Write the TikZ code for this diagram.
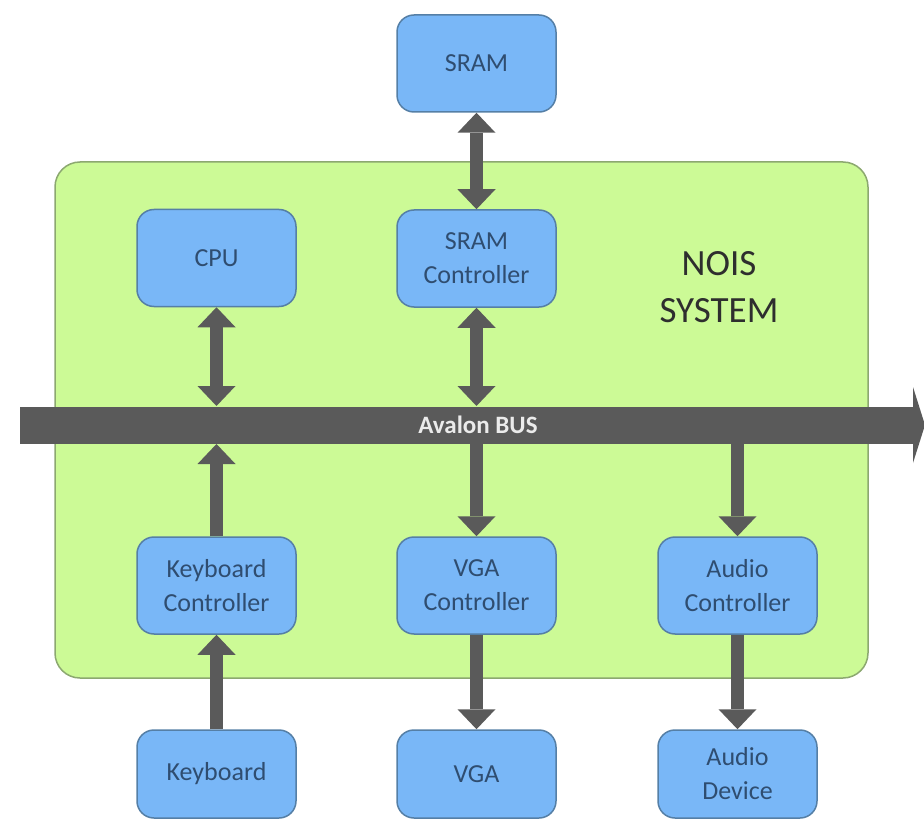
\documentclass[tikz,border=0pt]{standalone}
\usepackage{fontspec}
\setmainfont{Carlito}
\usetikzlibrary{arrows.meta}
\definecolor{unitfill}{HTML}{79B7F7}
\definecolor{unitline}{HTML}{557FA6}
\definecolor{unittext}{HTML}{2F4D70}
\definecolor{sysfill}{HTML}{CCFA96}
\definecolor{sysline}{HTML}{8CA870}
\definecolor{busgray}{HTML}{5A5A5A}
\tikzset{
  unit/.style={draw=unitline, fill=unitfill, line width=1.5pt, rounded corners=17pt,
    minimum width=159pt, minimum height=97pt, align=center, text=unittext,
    font=\fontsize{26}{34}\selectfont},
  lowunit/.style={unit, minimum height=88pt},
  sysbox/.style={draw=sysline, fill=sysfill, line width=1.5pt, rounded corners=25pt},
  link/.style={draw=busgray, line width=13pt},
  buspath/.style={draw=busgray, line width=37pt,
    -{Triangle[width=76pt,length=12pt,line width=0pt]}}
}
\begin{document}
\begin{tikzpicture}[x=1pt,y=-1pt,>={Triangle[width=38pt,length=20pt,line width=0pt]}]
				\useasboundingbox (0,0) rectangle (924,821);
				
				\node[sysbox, minimum width=813pt, minimum height=516pt] (sys) at (461.5,420) {};
				\node[text=black!82, align=center, font=\fontsize{37}{47}\selectfont] (sysname) at (719,287) {NOIS\\SYSTEM};
				
				\coordinate (busL) at (20,425);
				\coordinate (busR) at (925,425);
				\coordinate (bustop) at (0,406);
				\coordinate (busbot) at (0,444);
				\draw[buspath] (busL) -- (busR);
				\node[text=white!92!black, font=\fontsize{25}{28}\selectfont\bfseries] (buslabel) at (478,425) {Avalon BUS};
				
				\node[unit] (sram) at (476.5,63.5) {SRAM};
				\node[unit] (cpu) at (216.5,258) {CPU};
				\node[unit] (sramctl) at (476.5,258.5) {SRAM\\Controller};
				
				\node[unit] (kbctl) at (216.5,585.5) {Keyboard\\Controller};
				\node[unit] (vgactl) at (476.5,585.5) {VGA\\Controller};
				\node[unit] (audctl) at (737.5,585.5) {Audio\\Controller};
				
				\node[lowunit] (kb) at (216.5,774) {Keyboard};
				\node[lowunit] (vga) at (476.5,774) {VGA};
				\node[lowunit] (auddev) at (737.5,774) {Audio\\Device};
				
				\draw[link, <->] (sram) -- (sramctl);
				\draw[link, <->] (cpu) -- (cpu |- bustop);
				\draw[link, <->] (sramctl) -- (sramctl |- bustop);
				
				\draw[link, ->] (kbctl) -- (kbctl |- busbot);
				\draw[link, ->] (vgactl |- busbot) -- (vgactl);
				\draw[link, ->] (audctl |- busbot) -- (audctl);
				
				\draw[link, ->] (kb) -- (kbctl);
				\draw[link, ->] (vgactl) -- (vga);
				\draw[link, ->] (audctl) -- (auddev);
\end{tikzpicture}
\end{document}
